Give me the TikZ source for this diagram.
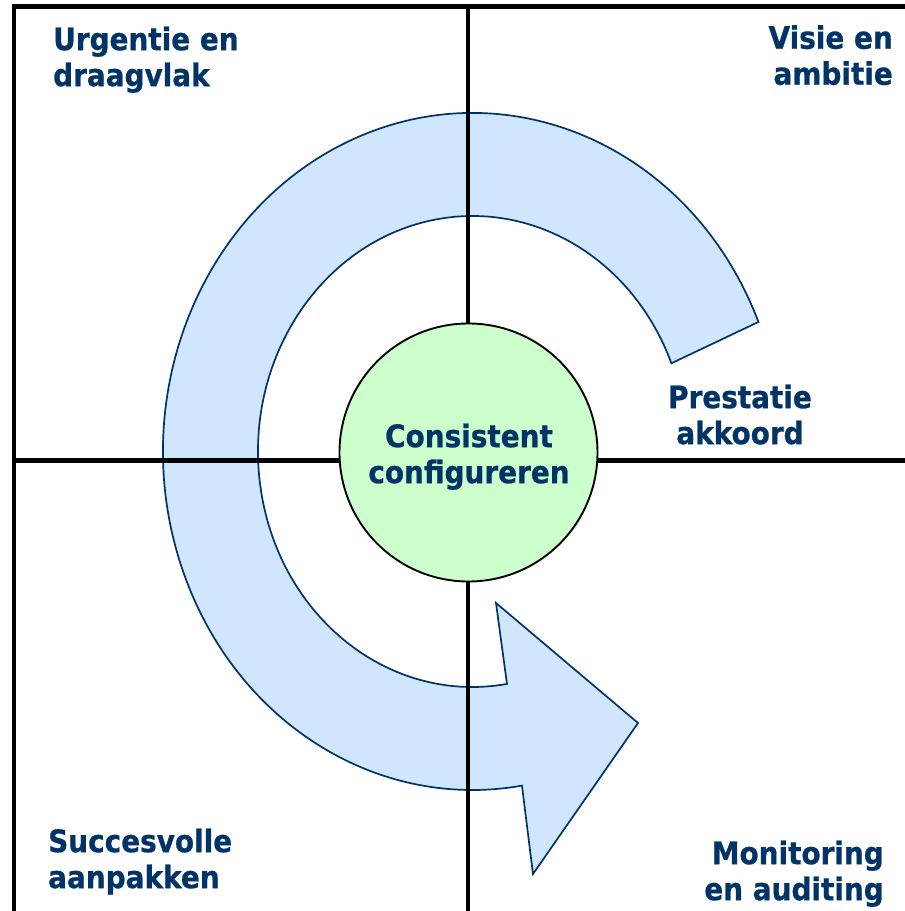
\documentclass[tikz,border=0pt]{standalone}
\usepackage{fontspec}
\newfontfamily\lblfont{DejaVu Sans}[FakeStretch=0.9, BoldFeatures={FakeBold=0.7}]
\definecolor{txtblue}{HTML}{003366}
\definecolor{arrowfill}{HTML}{D0E6FF}
\definecolor{arrowline}{HTML}{003366}
\definecolor{corefill}{HTML}{CCFFCC}
\begin{document}
\begin{tikzpicture}[x=1pt,y=1pt,
  lbl/.style={font=\lblfont\bfseries\fontsize{31}{36}\selectfont, text=txtblue, inner sep=0pt},
  gridline/.style={line width=4.4pt, black},
  cyclearrow/.style={fill=arrowfill, draw=arrowline, line width=1.7pt, line join=miter},
  corecircle/.style={circle, fill=corefill, draw=black, line width=1.9pt, inner sep=0pt, minimum size=258pt}]
\useasboundingbox (0,0) rectangle (905,911);
% arrow centre
\coordinate (c) at (472.5,459.5);
\coordinate (oStart) at ([shift={(c)}]22.5:309.5 and 338.5);
\coordinate (iEnd) at ([shift={(c)}]279.25:214.5 and 235.5);
\coordinate (headA) at (533,37);
\coordinate (tip) at (638,188);
\coordinate (headB) at (496,308);
\draw[cyclearrow] (oStart) arc[start angle=22.5, end angle=279.2, x radius=309.5, y radius=338.5]
  -- (headA) -- (tip) -- (headB) -- (iEnd)
  arc[start angle=279.25, end angle=22, x radius=214.5, y radius=235.5] -- cycle;
% frame and cross
\coordinate (bl) at (14,0);
\coordinate (tl) at (14,904.5);
\coordinate (tr) at (905,904.5);
\coordinate (vt) at (468,904.5);
\coordinate (vb) at (468,0);
\coordinate (hl) at (14,450.5);
\coordinate (hr) at (905,450.5);
\draw[gridline] (bl) -- (tl) -- (tr);
\draw[gridline] (vt) -- (vb);
\draw[gridline] (hl) -- (hr);
% centre circle
\node[corecircle] (core) at (468.5,458.5) {};
\node[lbl, anchor=north, align=center] (cons) at (469,487.6) {Consistent\\configureren};
% quadrant labels
\node[lbl, anchor=north west, align=left] (urg) at (53,884.6) {Urgentie en\\draagvlak};
\node[lbl, anchor=north east, align=right] (vis) at (893,886) {Visie en\\ambitie};
\node[lbl, anchor=north, align=center] (pres) at (740,526.6) {Prestatie\\akkoord};
\node[lbl, anchor=north west, align=left] (succ) at (48,82.6) {Succesvolle\\aanpakken};
\node[lbl, anchor=north east, align=right] (mon) at (884,70.6) {Monitoring\\en auditing};
\end{tikzpicture}
\end{document}
